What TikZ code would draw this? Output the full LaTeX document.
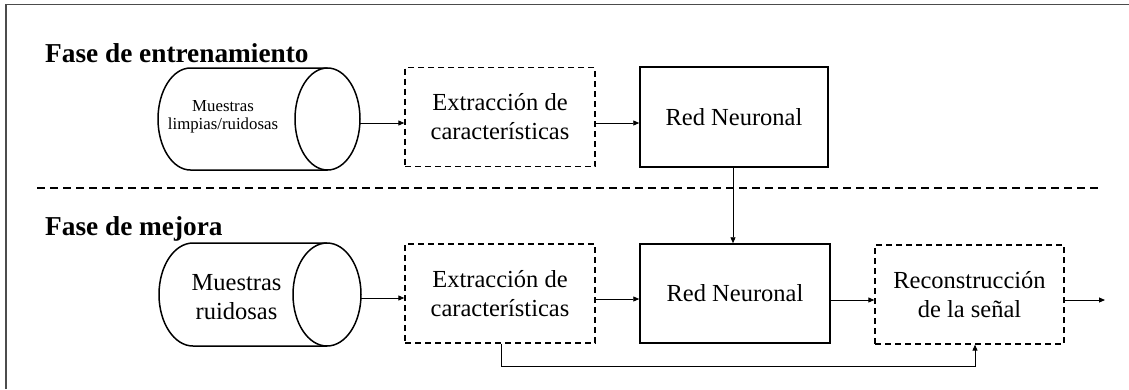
\documentclass[tikz,border=0pt]{standalone}
\usepackage{fontspec}
\setmainfont{Liberation Serif}
\usetikzlibrary{arrows.meta}
\begin{document}
\begin{tikzpicture}[x=1pt,y=-1pt,
  boxtext/.style={font=\fontsize{24.5}{29}\selectfont, align=center},
  solidbox/.style={draw, line width=1.5pt, minimum width=188pt, minimum height=100pt, inner sep=0pt, boxtext},
  dashbox/.style={draw, line width=1.3pt, dash pattern=on 6pt off 4pt, minimum width=190pt, minimum height=99pt, inner sep=0pt, boxtext},
  cylline/.style={line width=1.5pt},
  arr/.style={line width=0.9pt, -{Triangle[length=6pt,width=5pt]}},
  conn/.style={line width=0.9pt},
  title/.style={font=\fontsize{27.3}{30}\selectfont\bfseries, anchor=base west, inner sep=0pt},
  divider/.style={line width=1.2pt, dash pattern=on 8pt off 5pt}
]
\useasboundingbox (0,0) rectangle (1129,389);
% frame
\draw[gray!60!black, line width=1.4pt] (6,389) -- (6,4.5) -- (1129,4.5);

% titles
\node[title] (t1) at (45,62) {Fase de entrenamiento};
\node[title] (t2) at (45,235) {Fase de mejora};

% divider
\draw[divider] (37,188) -- (1102,188);

% top cylinder
\node[inner sep=0pt, minimum width=202pt, minimum height=102pt] (cyl1) at (259,119) {};
\draw[cylline] (327.5,68) -- (190.5,68) arc[start angle=90, end angle=270, x radius=32.5pt, y radius=51pt] -- (327.5,170);
\draw[cylline] (327.5,119) ellipse [x radius=32.5pt, y radius=51pt];
\node[font=\fontsize{16.8}{18.5}\selectfont, align=center] (cyl1t) at (223,117) {Muestras\\limpias/ruidosas};

% bottom cylinder
\node[inner sep=0pt, minimum width=202pt, minimum height=103pt] (cyl2) at (260,294.5) {};
\draw[cylline] (327,243) -- (193,243) arc[start angle=90, end angle=270, x radius=34pt, y radius=51.5pt] -- (327,346);
\draw[cylline] (327,294.5) ellipse [x radius=34pt, y radius=51.5pt];
\node[boxtext] (cyl2t) at (236.5,297) {Muestras\\ruidosas};

% boxes top
\node[dashbox] (ext1) at (500,117) {Extracción de\\características};
\node[solidbox] (red1) at (734,117) {Red Neuronal};

% boxes bottom
\node[dashbox] (ext2) at (500,293.5) {Extracción de\\características};
\node[solidbox, minimum width=190pt, minimum height=99pt] (red2) at (735,293.5) {Red Neuronal};
\node[dashbox, minimum width=189pt] (rec) at (969.5,294.5) {Reconstrucción\\de la señal};
\coordinate (out) at (1105,300);

% connectors top
\draw[arr] ([yshift=-4pt]cyl1.east) -- (ext1.west |- 0,123);
\draw[arr] (ext1.east |- 0,123) -- (red1.west |- 0,123);
\draw[arr] (red1.south -| 733,0) -- (red2.north -| 733,0);

% connectors bottom
\draw[arr] ([yshift=-3.5pt]cyl2.east) -- (ext2.west |- 0,298);
\draw[arr] (ext2.east |- 0,299) -- (red2.west |- 0,299);
\draw[arr] (red2.east |- 0,300) -- (rec.west |- 0,300);
\draw[arr] (rec.east |- 0,300) -- (out);
\draw[conn] (ext2.south -| 501,0) -- (501,366.5) -- (975,366.5);
\draw[arr] (975,366.5) -- (rec.south -| 975,0);
\end{tikzpicture}
\end{document}
